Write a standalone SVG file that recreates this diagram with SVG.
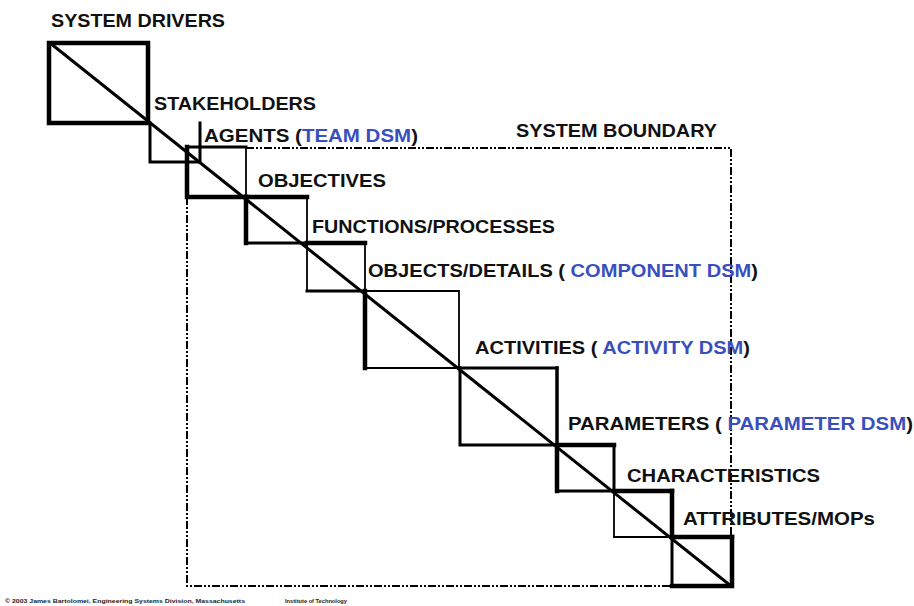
<svg xmlns="http://www.w3.org/2000/svg" width="914" height="606" viewBox="0 0 914 606">
<style>
.k{stroke:#000;stroke-width:4.5;stroke-linecap:square;fill:none}
.m{stroke:#000;stroke-width:3;stroke-linecap:square;fill:none}
.t{stroke:#000;stroke-width:1.8;stroke-linecap:square;fill:none}
.d{stroke:#000;stroke-width:2;fill:none;stroke-dasharray:8 2 2 2 2 2}
.lbl{font-family:"Liberation Sans",Arial,sans-serif;font-weight:bold;font-size:18px;fill:#111}
.b{fill:#3a4fbf}
.foot{font-family:"Liberation Sans",Arial,sans-serif;font-weight:bold;font-size:6px;fill:#222}
</style>
<rect width="914" height="606" fill="#fff"/>
<g id="boundary">
<path class="d" d="M246,148 H731 V537"/>
<path class="d" d="M187,197 V586 H672"/>
<text class="lbl" x="516" y="137" textLength="201" lengthAdjust="spacingAndGlyphs">SYSTEM BOUNDARY</text>
</g>
<g id="system-drivers">
<rect class="k" x="49" y="43" width="99" height="80"/>
<text class="lbl" x="51" y="27" textLength="174" lengthAdjust="spacingAndGlyphs">SYSTEM DRIVERS</text>
</g>
<g id="stakeholders">
<path class="m" d="M150,123 V162 H200 V123"/>
<text class="lbl" x="154" y="110" textLength="162" lengthAdjust="spacingAndGlyphs">STAKEHOLDERS</text>
</g>
<g id="agents">
<path class="m" d="M187,147 H246"/>
<path class="k" d="M187,147 V197 H246"/>
<path class="t" d="M246,147 V197"/>
<text class="lbl" x="204" y="142" textLength="214" lengthAdjust="spacingAndGlyphs">AGENTS (<tspan class="b">TEAM DSM</tspan>)</text>
</g>
<g id="objectives">
<path class="k" d="M246,197 H307"/>
<path class="k" d="M246,197 V243"/>
<path class="t" d="M307,197 V243"/>
<path class="m" d="M246,243 H307"/>
<text class="lbl" x="258" y="187" textLength="128" lengthAdjust="spacingAndGlyphs">OBJECTIVES</text>
</g>
<g id="functions">
<path class="k" d="M307,243 H365"/>
<path class="t" d="M307,243 V291"/>
<path class="t" d="M365,243 V291"/>
<path class="m" d="M307,291 H365"/>
<text class="lbl" x="312" y="233" textLength="243" lengthAdjust="spacingAndGlyphs">FUNCTIONS/PROCESSES</text>
</g>
<g id="objects">
<path class="t" d="M365,291 H459 V368"/>
<path class="k" d="M365,291 V368"/>
<path class="t" d="M365,368 H460"/>
<text class="lbl" x="368" y="277" textLength="390" lengthAdjust="spacingAndGlyphs">OBJECTS/DETAILS ( <tspan class="b">COMPONENT DSM</tspan>)</text>
</g>
<g id="activities">
<path class="m" d="M460,368 H557"/>
<path class="m" d="M460,368 V445 H557"/>
<path class="m" d="M557,368 V445" style="stroke-width:3.5"/>
<text class="lbl" x="475" y="354" textLength="275" lengthAdjust="spacingAndGlyphs">ACTIVITIES ( <tspan class="b">ACTIVITY DSM</tspan>)</text>
</g>
<g id="parameters">
<path class="k" d="M557,445 H614"/>
<path class="k" d="M557,445 V491"/>
<path class="m" d="M614,445 V491"/>
<path class="m" d="M557,491 H614"/>
<text class="lbl" x="568" y="430" textLength="345" lengthAdjust="spacingAndGlyphs">PARAMETERS ( <tspan class="b">PARAMETER DSM</tspan>)</text>
</g>
<g id="characteristics">
<path class="k" d="M614,491 H672"/>
<path class="t" d="M614,491 V537"/>
<path class="k" d="M672,491 V537"/>
<path class="t" d="M614,537 H672"/>
<text class="lbl" x="627" y="482" textLength="193" lengthAdjust="spacingAndGlyphs">CHARACTERISTICS</text>
</g>
<g id="attributes">
<path class="k" d="M672,537 H732"/>
<path class="m" d="M672,537 V586"/>
<path class="k" d="M732,537 V586 H672"/>
<text class="lbl" x="683" y="525" textLength="192" lengthAdjust="spacingAndGlyphs">ATTRIBUTES/MOPs</text>
</g>
<g id="connectors">
<line x1="50" y1="43" x2="731" y2="586" stroke="#000" stroke-width="3"/>
</g>
<g id="footer">
<text class="foot" x="5" y="603" textLength="240" lengthAdjust="spacingAndGlyphs">© 2003 James Bartolomei, Engineering Systems Division, Massachusetts</text>
<text class="foot" x="285" y="603" textLength="62" lengthAdjust="spacingAndGlyphs">Institute of Technology</text>
</g>
</svg>
